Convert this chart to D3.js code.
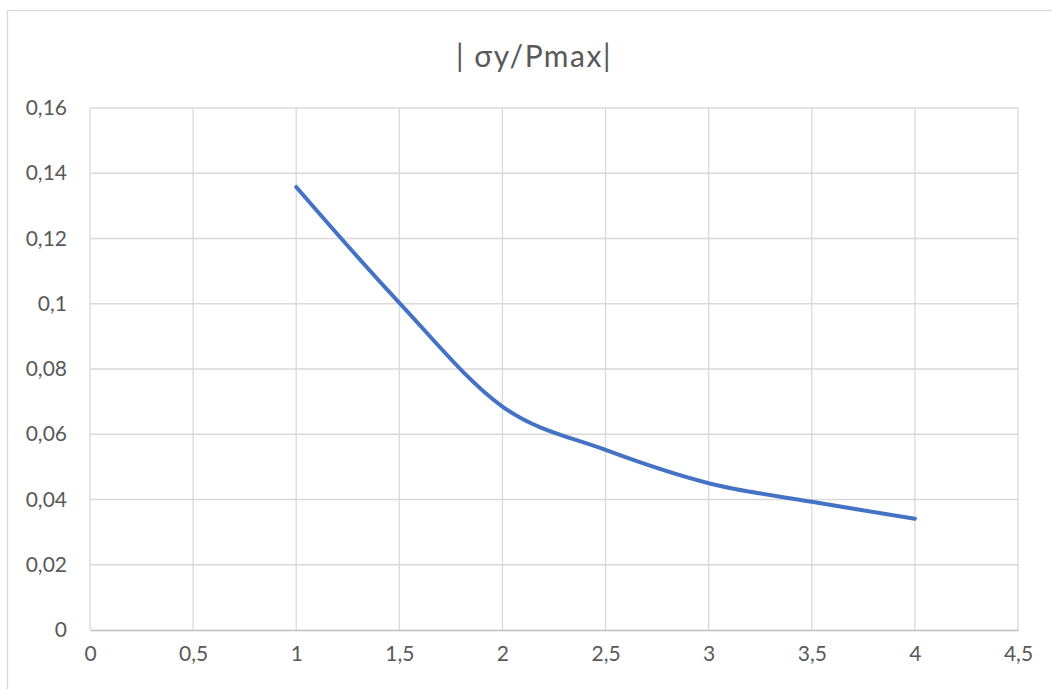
<!DOCTYPE html>
<html>
<head>
<meta charset="utf-8">
<script src="https://cdn.jsdelivr.net/npm/d3@7"></script>
<style>
  html, body { margin: 0; padding: 0; background: #ffffff; }
  svg { display: block; }
  text { font-family: Lato, "Noto Sans", sans-serif; fill: #595959; }
</style>
</head>
<body>
<svg id="chart" width="1052" height="689"></svg>
<script>
const title = "| σy/Pmax|";
const xValues = [1, 1.5, 2, 2.5, 3, 3.5, 4];
const yValues = [0.1358, 0.1003, 0.0685, 0.0552, 0.0450, 0.0393, 0.0341];
const xTicks = [0, 0.5, 1, 1.5, 2, 2.5, 3, 3.5, 4, 4.5];
const yTicks = [0, 0.02, 0.04, 0.06, 0.08, 0.1, 0.12, 0.14, 0.16];

const svg = d3.select("#chart");
const W = 1052, H = 689;
const m = { left: 90, right: 1018, top: 108, bottom: 630 };

const locale = d3.formatLocale({ decimal: ",", thousands: " ", grouping: [3], currency: ["", ""] });
const fmt = locale.format("~g");

const x = d3.scaleLinear().domain([0, 4.5]).range([m.left, m.right]);
const y = d3.scaleLinear().domain([0, 0.16]).range([m.bottom, m.top]);

// outer chart border
svg.append("rect")
  .attr("x", 7.5).attr("y", 10.5)
  .attr("width", W + 20).attr("height", H + 20)
  .attr("fill", "#fff").attr("stroke", "#d9d9d9").attr("stroke-width", 1.3);

// title
svg.append("text")
  .attr("x", 534).attr("y", 67)
  .attr("text-anchor", "middle")
  .attr("xml:space", "preserve")
  .style("font-size", "30px")
  .style("letter-spacing", "1.5px")
  .text(title);

// horizontal gridlines
svg.append("g").selectAll("line")
  .data(yTicks.filter(d => d > 0))
  .join("line")
  .attr("x1", x(0)).attr("x2", x(4.5))
  .attr("y1", d => y(d)).attr("y2", d => y(d))
  .attr("stroke", "#d9d9d9").attr("stroke-width", 1.3);

// vertical gridlines
svg.append("g").selectAll("line")
  .data(xTicks)
  .join("line")
  .attr("x1", d => x(d)).attr("x2", d => x(d))
  .attr("y1", y(0.16)).attr("y2", y(0))
  .attr("stroke", "#d9d9d9").attr("stroke-width", 1.3);

// x axis
const xAxis = svg.append("g")
  .attr("transform", `translate(0,${y(0)})`)
  .call(d3.axisBottom(x).tickValues(xTicks).tickFormat(fmt).tickSize(0).tickPadding(16));
xAxis.select(".domain").attr("stroke", "#bfbfbf").attr("stroke-width", 1.5);
xAxis.selectAll("text").style("font-size", "21px").style("font-family", "Lato, 'Noto Sans', sans-serif").attr("fill", "#595959");

// y axis (labels only)
const yAxis = svg.append("g")
  .attr("transform", `translate(${x(0)},0)`)
  .call(d3.axisLeft(y).tickValues(yTicks).tickFormat(fmt).tickSize(0).tickPadding(23));
yAxis.select(".domain").remove();
yAxis.selectAll("text").style("font-size", "21px").style("font-family", "Lato, 'Noto Sans', sans-serif").attr("fill", "#595959");

// series line
const pts = xValues.map((v, i) => [v, yValues[i]]);
const line = d3.line()
  .x(d => x(d[0]))
  .y(d => y(d[1]))
  .curve(d3.curveCardinal.tension(0));
svg.append("path")
  .datum(pts)
  .attr("d", line)
  .attr("fill", "none")
  .attr("stroke", "#4472c4")
  .attr("stroke-width", 4)
  .attr("stroke-linecap", "round")
  .attr("stroke-linejoin", "round");
</script>
</body>
</html>
